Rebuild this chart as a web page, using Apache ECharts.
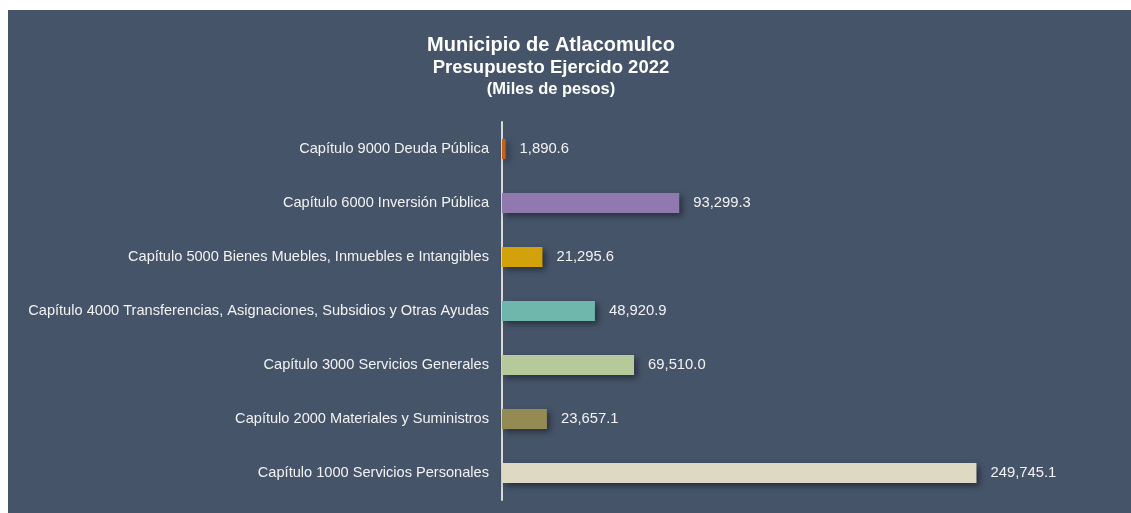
<!DOCTYPE html>
<html>
<head>
<meta charset="utf-8">
<script src="https://cdn.jsdelivr.net/npm/echarts@6/dist/echarts.min.js"></script>
<style>
  html, body { margin: 0; padding: 0; background: #ffffff; }
  #chart { position: absolute; left: 8px; top: 10px; width: 1123px; height: 503px; background: #46546a; }
</style>
</head>
<body>
<div id="chart"></div>
<script>
// categories, bottom to top
const categories = [
  'Capítulo 1000 Servicios Personales',
  'Capítulo 2000 Materiales y Suministros',
  'Capítulo 3000 Servicios Generales',
  'Capítulo 4000 Transferencias, Asignaciones, Subsidios y Otras Ayudas',
  'Capítulo 5000 Bienes Muebles, Inmuebles e Intangibles',
  'Capítulo 6000 Inversión Pública',
  'Capítulo 9000 Deuda Pública'
];
const values = [249745.1, 23657.1, 69510.0, 48920.9, 21295.6, 93299.3, 1890.6];
const barColors = ['#ddd9c3', '#948a54', '#b5c99a', '#6fb6ac', '#d3a20a', '#8f79ae', '#c5621a'];
const titleLines = ['Municipio de Atlacomulco', 'Presupuesto Ejercido 2022', '(Miles de pesos)'];

const fmt = v => v.toLocaleString('en-US', { minimumFractionDigits: 1, maximumFractionDigits: 1 });

const chart = echarts.init(document.getElementById('chart'));
chart.setOption({
  backgroundColor: '#46546a',
  animation: false,
  graphic: [
    { type: 'text', x: 543, y: 35, style: { text: titleLines[0], fill: '#ffffff', font: 'bold 20px "Liberation Sans", Arial', textAlign: 'center', textVerticalAlign: 'middle' } },
    { type: 'text', x: 543, y: 58, style: { text: titleLines[1], fill: '#ffffff', font: 'bold 18.5px "Liberation Sans", Arial', textAlign: 'center', textVerticalAlign: 'middle' } },
    { type: 'text', x: 543, y: 79, style: { text: titleLines[2], fill: '#ffffff', font: 'bold 16.5px "Liberation Sans", Arial', textAlign: 'center', textVerticalAlign: 'middle' } }
  ],
  grid: { left: 494, right: 60, top: 112, bottom: 13, containLabel: false },
  xAxis: { type: 'value', min: 0, max: 299500, show: false },
  yAxis: {
    type: 'category',
    data: categories,
    axisLine: { show: true, lineStyle: { color: '#d9d9d9', width: 2 } },
    axisTick: { show: false },
    axisLabel: { color: '#f2f2f2', fontSize: 14.6, fontFamily: '"Liberation Sans", Arial', margin: 13 }
  },
  series: [{
    type: 'bar',
    barWidth: 20,
    data: values.map((v, i) => ({
      value: v,
      itemStyle: { color: barColors[i] }
    })),
    itemStyle: {
      shadowColor: 'rgba(0,0,0,0.45)',
      shadowBlur: 6,
      shadowOffsetX: 3,
      shadowOffsetY: 3
    },
    label: {
      show: true,
      position: 'right',
      distance: 14,
      color: '#f2f2f2',
      fontSize: 14.8,
      fontFamily: '"Liberation Sans", Arial',
      formatter: p => fmt(p.value)
    }
  }]
});
</script>
</body>
</html>
